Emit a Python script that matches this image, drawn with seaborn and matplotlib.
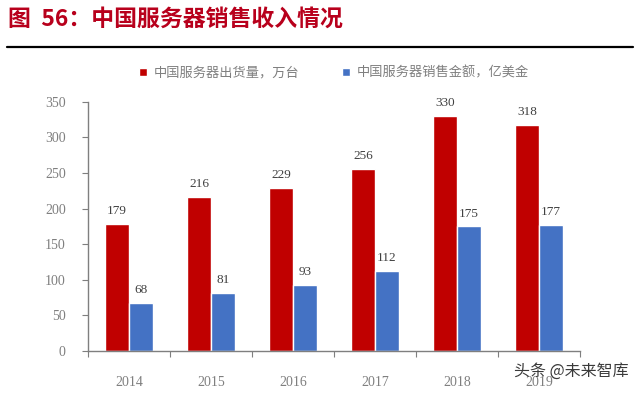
import matplotlib
import matplotlib.pyplot as plt
import pandas as pd
import seaborn as sns

matplotlib.use("Agg")

years = ["2014", "2015", "2016", "2017", "2018", "2019"]
shipments = [179, 216, 229, 256, 330, 318]
revenue = [68, 81, 93, 112, 175, 177]
series_names = ["中国服务器出货量，万台", "中国服务器销售金额，亿美金"]
y_ticks = [0, 50, 100, 150, 200, 250, 300, 350]

RED = "#C00000"
BLUE = "#4472C4"
GRAY = "#7F7F7F"

sns.set_theme(style="white")
plt.rcParams["font.family"] = ["Liberation Serif", "Noto Sans CJK SC", "DejaVu Sans"]

df = pd.DataFrame({
    "year": years * 2,
    "value": shipments + revenue,
    "series": [series_names[0]] * len(years) + [series_names[1]] * len(years),
})

fig = plt.figure(figsize=(6.4, 3.98), dpi=100)
ax = fig.add_axes([0.1375, 0.118, 0.769, 0.626])

sns.barplot(data=df, x="year", y="value", hue="series", palette=[RED, BLUE],
            width=0.58, saturation=1, ax=ax, legend=True)

for container in ax.containers:
    ax.bar_label(container, padding=5, fontsize=9.5, color="#404040",
                 fontfamily="Liberation Serif")

ax.set_ylim(0, 350)
ax.set_yticks(y_ticks)
ax.set_xlim(-0.5, len(years) - 0.5)
ax.set_xlabel("")
ax.set_ylabel("")
ax.tick_params(axis="y", labelsize=10, colors=GRAY, labelcolor=GRAY, length=4, width=0.8, left=True, pad=12)
ax.tick_params(axis="x", labelsize=10, labelcolor=GRAY, bottom=False, pad=12)
for lbl in ax.get_xticklabels() + ax.get_yticklabels():
    lbl.set_fontfamily("Liberation Serif")

# category boundary ticks on the x axis
ax.set_xticks([i + 0.5 for i in range(-1, len(years))], minor=True)
ax.tick_params(axis="x", which="minor", bottom=True, length=4, width=0.8, color=GRAY)

for side in ["top", "right"]:
    ax.spines[side].set_visible(False)
for side in ["left", "bottom"]:
    ax.spines[side].set_color(GRAY)
    ax.spines[side].set_linewidth(1.0)

handles, labels = ax.get_legend_handles_labels()
ax.legend(handles, labels, loc="center", bbox_to_anchor=(0.5, 1.117), ncol=2,
          frameon=False, labelcolor=GRAY, handlelength=0.6,
          handleheight=0.6, columnspacing=3.2, handletextpad=0.5,
          prop={"family": ["Noto Sans CJK SC"], "size": 9.5})

fig.text(0.012, 0.952, "图  56：中国服务器销售收入情况", fontsize=16.5, fontweight="bold",
         color="#B8001C", va="center", ha="left",
         fontfamily=["Noto Sans CJK SC", "DejaVu Sans"])
fig.add_artist(plt.Line2D([0.011, 0.989], [0.882, 0.882], color="black", linewidth=1.6))

fig.text(0.982, 0.068, "头条 @未来智库", fontsize=11.5, color="#3A3A3A", ha="right",
         va="center", fontfamily=["Noto Sans CJK SC", "DejaVu Sans"])

fig.savefig("out.png", dpi=100)
